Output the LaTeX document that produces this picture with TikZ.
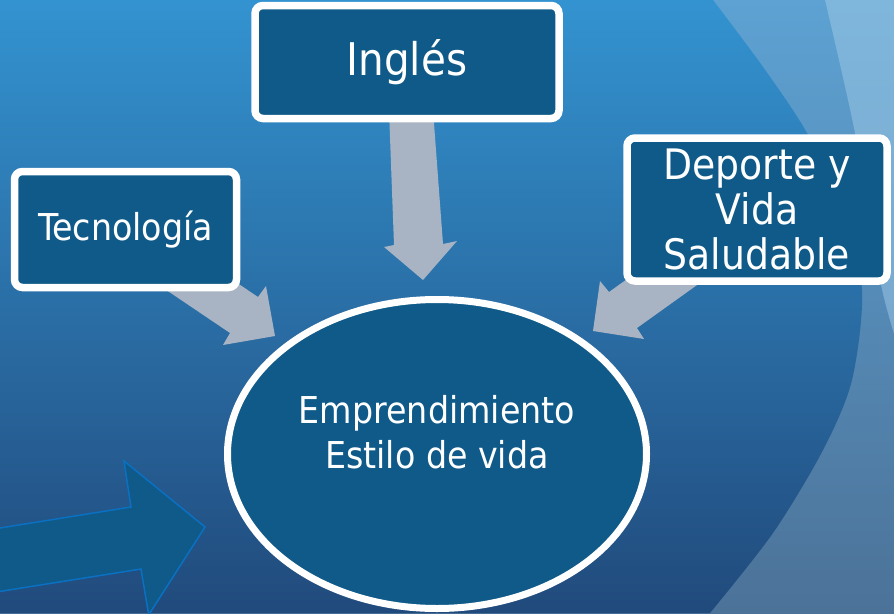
\documentclass[tikz,border=0pt]{standalone}
\usepackage{fontspec}
\setmainfont{DejaVu Sans Condensed}
\usetikzlibrary{shapes.geometric}
\definecolor{boxfill}{HTML}{0F5A88}
\definecolor{arrowgrey}{HTML}{A8B4C3}
\definecolor{bgtop}{HTML}{3393D0}
\definecolor{bgmid}{HTML}{2C74AF}
\definecolor{bgbot}{HTML}{214A7C}
\definecolor{ltop}{HTML}{5DA2D3}
\definecolor{lmid}{HTML}{5689B6}
\definecolor{lbot}{HTML}{4C7298}
\definecolor{lltop}{HTML}{7FB6DC}
\definecolor{llbot}{HTML}{79A8CD}
\definecolor{bluearrow}{HTML}{0A70C2}
\begin{document}
\begin{tikzpicture}[x=1pt,y=-1pt,
  box/.style={draw=white, line width=7.5pt, fill=boxfill, rounded corners=8pt, text=white, align=center, inner sep=0pt},
  bubble/.style={ellipse, draw=white, line width=7pt, fill=boxfill, text=white, align=center, inner sep=0pt},
  greyarrow/.style={fill=arrowgrey, draw=none},
  bluearrowstyle/.style={draw=bluearrow, fill=boxfill, line width=1.5pt, line join=miter}]
\useasboundingbox (0,0) rectangle (894,613);
\begin{scope}
\clip (0,0) rectangle (894,613);
% background
\shade[top color=ltop, middle color=lmid, bottom color=lbot] (0,0) rectangle (894,613);
\shade[top color=lltop, bottom color=llbot] plot[smooth] coordinates {(825,0) (855,133) (880,280) (896,340)} -- (900,340) -- (900,0) -- cycle;
\shade[top color=bgtop, middle color=bgmid, bottom color=bgbot] (0,0) -- plot[smooth] coordinates {(713,0) (763,67) (807,133) (843,210) (862,290) (852,380) (823,450) (773,533) (710,613)} -- (0,613) -- cycle;
% decorative arrow bottom left
\draw[bluearrowstyle] (-10,529.6) -- (131,507) -- (124,461) -- (205,527) -- (148.7,614.9) -- (141,569) -- (-10,593) -- cycle;
% grey block arrows
\fill[greyarrow] (389,110) -- (433,110) -- (443,244) -- (457,241) -- (423,280) -- (384,247) -- (394,245) -- cycle;
\fill[greyarrow] (175,241) -- (258,297) -- (266,286) -- (275,336) -- (223,345) -- (230,333) -- (147,277) -- cycle;
\fill[greyarrow] (690,234) -- (609,292) -- (600,281) -- (593,331) -- (644,339) -- (637,328) -- (718,270) -- cycle;
\end{scope}
% nodes
\node[box, minimum width=304pt, minimum height=113pt, font=\fontsize{45}{54}\selectfont] (ingles) at (407,62) {Inglés};
\node[box, minimum width=222pt, minimum height=116pt, font=\fontsize{37}{43}\selectfont] (tec) at (125.5,229.5) {Tecnología};
\node[box, minimum width=260pt, minimum height=143pt, font=\fontsize{42}{45}\selectfont] (dep) at (757,209.5) {Deporte y\\Vida\\Saludable};
\node[bubble, minimum width=419pt, minimum height=309pt, font=\fontsize{37}{45}\selectfont] (emp) at (437,454) {Emprendimiento\\Estilo de vida\\\mbox{}};
\end{tikzpicture}
\end{document}
